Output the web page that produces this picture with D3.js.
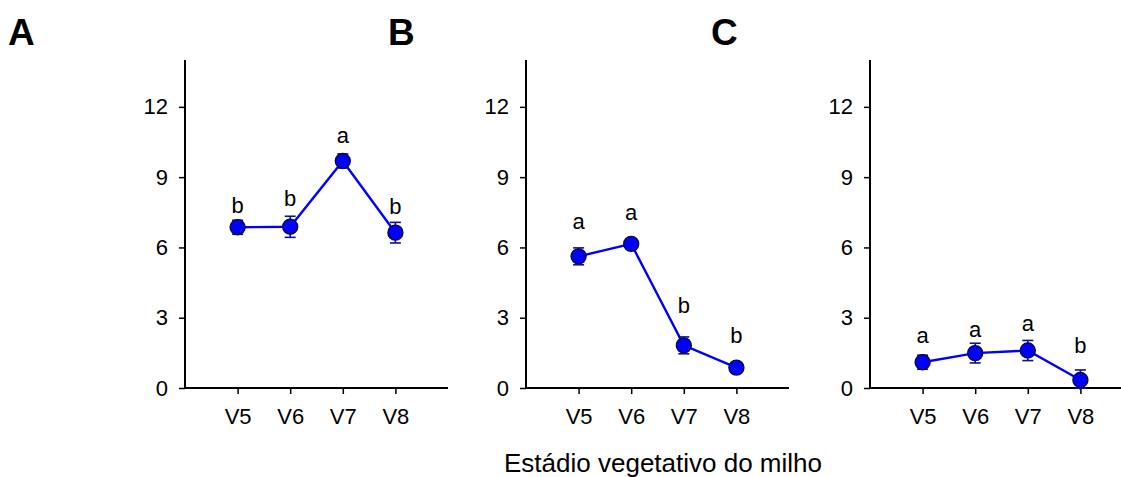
<!DOCTYPE html>
<html>
<head>
<meta charset="utf-8">
<script src="https://cdn.jsdelivr.net/npm/d3@7"></script>
<style>
  html, body { margin: 0; padding: 0; background: #fff; }
  svg { display: block; font-family: Arial, "Liberation Sans", Helvetica, sans-serif; }
</style>
</head>
<body>
<svg id="chart" width="1121" height="477"></svg>
<script>
// Maize vegetative stages on the x axis
const stages = ["V5", "V6", "V7", "V8"];
const yTicks = [0, 3, 6, 9, 12];
const panelLabels = ["A", "B", "C"];

// Means per stage for each panel
const meansA = [6.86, 6.88, 9.69, 6.63];
const meansB = [5.62, 6.15, 1.82, 0.87];
const meansC = [1.10, 1.49, 1.60, 0.34];

// Standard errors
const errA = [0.30, 0.45, 0.30, 0.44];
const errB = [0.36, 0.15, 0.36, 0.12];
const errC = [0.30, 0.42, 0.43, 0.43];

// Mean-separation letters and their heights (in y units)
const lettersA = ["b", "b", "a", "b"];
const lettersB = ["a", "a", "b", "b"];
const lettersC = ["a", "a", "a", "b"];
const letterYA = [7.81, 8.11, 10.80, 7.74];
const letterYB = [7.10, 7.52, 3.54, 2.26];
const letterYC = [2.26, 2.51, 2.76, 1.84];

const panels = [
  { means: meansA, err: errA, letters: lettersA, letterY: letterYA },
  { means: meansB, err: errB, letters: lettersB, letterY: letterYB },
  { means: meansC, err: errC, letters: lettersC, letterY: letterYC }
];

const svg = d3.select("#chart");
const axisLeftX = [185, 526, 870];
const plotW = 263, plotTop = 60, plotBottom = 388;
const lineBlue = "#0000ff";
const errColor = "#10108a";

const y = d3.scaleLinear().domain([0, 14]).range([plotBottom, plotTop]);
const x = d3.scaleLinear().domain([0, 5]).range([0, plotW]);

panels.forEach((p, i) => {
  const g = svg.append("g").attr("transform", `translate(${axisLeftX[i]},0)`);
  const data = stages.map((s, k) => ({ s, pos: k + 1, m: p.means[k], e: p.err[k], l: p.letters[k], ly: p.letterY[k] }));

  // y axis
  const yAxis = d3.axisLeft(y).tickValues(yTicks).tickSize(6).tickPadding(11).tickFormat(d3.format("d"));
  const ya = g.append("g").call(yAxis);
  ya.select(".domain").attr("d", `M0,${plotTop}V${plotBottom}`).attr("stroke", "#000").attr("stroke-width", 2);
  ya.selectAll(".tick line").attr("stroke", "#000").attr("stroke-width", 1.5);
  ya.selectAll(".tick text").attr("font-size", 22).attr("fill", "#000").attr("font-family", null);

  // x axis
  const xAxis = d3.axisBottom(x).tickValues(data.map(d => d.pos)).tickFormat((d, k) => stages[k]).tickSize(6).tickPadding(14);
  const xa = g.append("g").attr("transform", `translate(0,${plotBottom})`).call(xAxis);
  xa.select(".domain").attr("d", `M0,0H${plotW}`).attr("stroke", "#000").attr("stroke-width", 2);
  xa.selectAll(".tick line").attr("stroke", "#000").attr("stroke-width", 1.5);
  xa.selectAll(".tick text").attr("font-size", 22).attr("fill", "#000").attr("font-family", null);

  // connecting line
  const line = d3.line().x(d => x(d.pos)).y(d => y(d.m));
  g.append("path").datum(data).attr("d", line)
    .attr("fill", "none").attr("stroke", lineBlue).attr("stroke-width", 2.4);

  // error bars
  const eb = g.append("g").selectAll("g").data(data).join("g");
  eb.append("line")
    .attr("x1", d => x(d.pos)).attr("x2", d => x(d.pos))
    .attr("y1", d => y(d.m - d.e)).attr("y2", d => y(d.m + d.e))
    .attr("stroke", errColor).attr("stroke-width", 1.6);
  eb.append("line")
    .attr("x1", d => x(d.pos) - 5.5).attr("x2", d => x(d.pos) + 5.5)
    .attr("y1", d => y(d.m + d.e)).attr("y2", d => y(d.m + d.e))
    .attr("stroke", errColor).attr("stroke-width", 1.6);
  eb.append("line")
    .attr("x1", d => x(d.pos) - 5.5).attr("x2", d => x(d.pos) + 5.5)
    .attr("y1", d => y(Math.max(0, d.m - d.e))).attr("y2", d => y(Math.max(0, d.m - d.e)))
    .attr("stroke", errColor).attr("stroke-width", 1.6);

  // markers
  g.append("g").selectAll("circle").data(data).join("circle")
    .attr("cx", d => x(d.pos)).attr("cy", d => y(d.m)).attr("r", 7.5)
    .attr("fill", lineBlue).attr("stroke", "#0a0a40").attr("stroke-width", 1.4);

  // letters
  g.append("g").selectAll("text").data(data).join("text")
    .attr("x", d => x(d.pos)).attr("y", d => y(d.ly))
    .attr("dy", "0.35em").attr("text-anchor", "middle")
    .attr("font-size", 22).attr("fill", "#000")
    .text(d => d.l);
});

// panel letters
const labelX = [8, 388, 711];
svg.selectAll("text.panel").data(panelLabels).join("text")
  .attr("class", "panel")
  .attr("x", (d, i) => labelX[i]).attr("y", 45)
  .attr("font-size", 37).attr("font-weight", "bold").attr("fill", "#000")
  .text(d => d);

// shared x-axis title
svg.append("text")
  .attr("x", 663).attr("y", 472)
  .attr("text-anchor", "middle").attr("font-size", 26).attr("fill", "#000")
  .text("Estádio vegetativo do milho");
</script>
</body>
</html>
